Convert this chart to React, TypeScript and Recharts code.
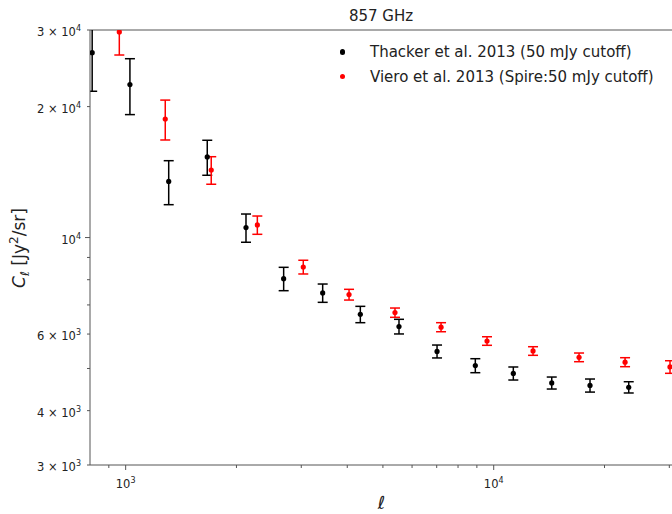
import { ScatterChart, Scatter, XAxis, YAxis, ErrorBar, ReferenceLine } from 'recharts';

// multipole bins and C_l values
const thackerL = [811, 1027, 1309, 1666, 2123, 2687, 3430, 4341, 5529, 7015, 8913, 11305, 14377, 18266, 23272];
const thackerC = [26600, 22470, 13460, 15320, 10540, 8045, 7458, 6660, 6245, 5474, 5078, 4872, 4632, 4571, 4527];
const thackerErr = [4910, 3300, 1560, 1415, 786, 497, 361, 288, 242, 187, 188, 168, 147, 158, 135];

const vieroL = [961, 1281, 1708, 2279, 3038, 4045, 5392, 7193, 9590, 12789, 17055, 22746, 30130];
const vieroC = [29700, 18730, 14300, 10690, 8557, 7393, 6721, 6223, 5784, 5486, 5305, 5171, 5042];
const vieroErr = [3420, 1970, 1040, 517, 311, 210, 165, 149, 131, 125, 122, 123, 168];

const xTicks = [900, 1000, 2000, 3000, 4000, 5000, 6000, 7000, 8000, 9000, 10000, 20000, 30000];
const xMajor = [1000, 10000];
const xTickText: Record<number, [string, string]> = { 1000: ['10', '3'], 10000: ['10', '4'] };

const yTicks = [3000, 4000, 5000, 6000, 7000, 8000, 9000, 10000, 20000, 30000];
const yMajor = [10000];
const yTickText: Record<number, [string, string]> = {
  3000: ['3 × 10', '3'],
  4000: ['4 × 10', '3'],
  6000: ['6 × 10', '3'],
  10000: ['10', '4'],
  20000: ['2 × 10', '4'],
  30000: ['3 × 10', '4'],
};

const thacker = thackerL.map((l, i) => ({ l, c: thackerC[i], err: thackerErr[i] }));
const viero = vieroL.map((l, i) => ({ l, c: vieroC[i], err: vieroErr[i] }));

const FONT = '"DejaVu Sans", sans-serif';
const AXIS = '#555';
const TEXT = '#222';

// plot box, used to clip the error bars that run past the top of the axes
const PLOT = { left: 90, top: 30, width: 583, height: 435 };

const XTick = (props: any) => {
  const { x, y, payload } = props;
  const v = payload.value;
  const len = xMajor.includes(v) ? 5 : 3;
  const lab = xTickText[v];
  return (
    <g>
      <line x1={x} x2={x} y1={y} y2={y + len} stroke={AXIS} strokeWidth={1} />
      {lab && (
        <text x={x} y={y + 23} textAnchor="middle" fontSize={11.5} fill={TEXT} fontFamily={FONT}>
          {lab[0]}
          <tspan fontSize={8} dy={-5}>{lab[1]}</tspan>
        </text>
      )}
    </g>
  );
};

const YTick = (props: any) => {
  const { x, y, payload } = props;
  const v = payload.value;
  const len = yMajor.includes(v) ? 5 : 3;
  const lab = yTickText[v];
  return (
    <g>
      <line x1={x - len} x2={x} y1={y} y2={y} stroke={AXIS} strokeWidth={1} />
      {lab && (
        <text x={x - 9} y={y + 6} textAnchor="end" fontSize={11.5} fill={TEXT} fontFamily={FONT}>
          {lab[0]}
          <tspan fontSize={8} dy={-5}>{lab[1]}</tspan>
        </text>
      )}
    </g>
  );
};

const YLabel = () => (
  <text transform="translate(25, 248) rotate(-90)" textAnchor="middle" fontSize={17} fill={TEXT} fontFamily={FONT}>
    <tspan fontStyle="italic">C</tspan>
    <tspan fontSize={12} dy={4} fontStyle="italic">ℓ</tspan>
    <tspan dy={-4}> [Jy</tspan>
    <tspan fontSize={12} dy={-7}>2</tspan>
    <tspan dy={7}>/sr]</tspan>
  </text>
);

const dot = (color: string) => (p: any) => <circle cx={p.cx} cy={p.cy} r={2.6} fill={color} />;

const legendItems = [
  { name: 'Thacker et al. 2013 (50 mJy cutoff)', color: '#000000', top: 42 },
  { name: 'Viero et al. 2013 (Spire:50 mJy cutoff)', color: '#ff0000', top: 66.5 },
];

export default function App() {
  return (
    <div style={{ position: 'absolute', left: 0, top: 0, width: 672, height: 514, overflow: 'hidden', background: '#fff' }}>
      <style>{'[class*="recharts-errorBar"], .recharts-scatter-symbol { clip-path: url(#plotClip); }'}</style>
      <svg width={0} height={0} style={{ position: 'absolute' }}>
        <defs>
          <clipPath id="plotClip" clipPathUnits="userSpaceOnUse">
            <rect x={PLOT.left} y={PLOT.top} width={PLOT.width} height={PLOT.height} />
          </clipPath>
        </defs>
      </svg>
      <ScatterChart width={680} height={514} margin={{ top: 30, right: 7, bottom: 0, left: 0 }}>
        <XAxis
          dataKey="l"
          type="number"
          scale="log"
          domain={[800, 30700]}
          allowDataOverflow
          ticks={xTicks}
          interval={0}
          tickSize={0}
          tickMargin={0}
          tickLine={false}
          tick={<XTick />}
          height={49}
          axisLine={{ stroke: AXIS, strokeWidth: 1 }}
          label={{ value: 'ℓ', position: 'insideBottom', offset: 5, style: { fontSize: 18, fontStyle: 'italic', fill: TEXT, fontFamily: FONT } }}
        />
        <YAxis
          dataKey="c"
          type="number"
          scale="log"
          domain={[3000, 30000]}
          allowDataOverflow
          ticks={yTicks}
          interval={0}
          tickSize={0}
          tickMargin={0}
          tickLine={false}
          tick={<YTick />}
          width={90}
          axisLine={{ stroke: AXIS, strokeWidth: 1 }}
          label={<YLabel />}
        />
        <ReferenceLine y={30000} stroke={AXIS} strokeWidth={1} />
        <Scatter data={thacker} fill="#000" shape={dot('#000')} isAnimationActive={false}>
          <ErrorBar dataKey="err" direction="y" width={5} stroke="#000" strokeWidth={1.5} isAnimationActive={false} />
        </Scatter>
        <Scatter data={viero} fill="#ff0000" shape={dot('#ff0000')} isAnimationActive={false}>
          <ErrorBar dataKey="err" direction="y" width={5} stroke="#ff0000" strokeWidth={1.5} isAnimationActive={false} />
        </Scatter>
      </ScatterChart>

      <div style={{ position: 'absolute', left: 281, top: 6, width: 200, textAlign: 'center', fontFamily: FONT, fontSize: 15, lineHeight: '20px', color: TEXT }}>
        857 GHz
      </div>

      {legendItems.map((it) => (
        <div key={it.name} style={{ position: 'absolute', left: 340, top: it.top, height: 20, display: 'flex', alignItems: 'center', fontFamily: FONT, fontSize: 15, lineHeight: '20px', color: TEXT, whiteSpace: 'nowrap' }}>
          <span style={{ display: 'inline-block', width: 5.2, height: 5.2, borderRadius: '50%', background: it.color, marginRight: 24.8 }} />
          <span>{it.name}</span>
        </div>
      ))}
    </div>
  );
}
